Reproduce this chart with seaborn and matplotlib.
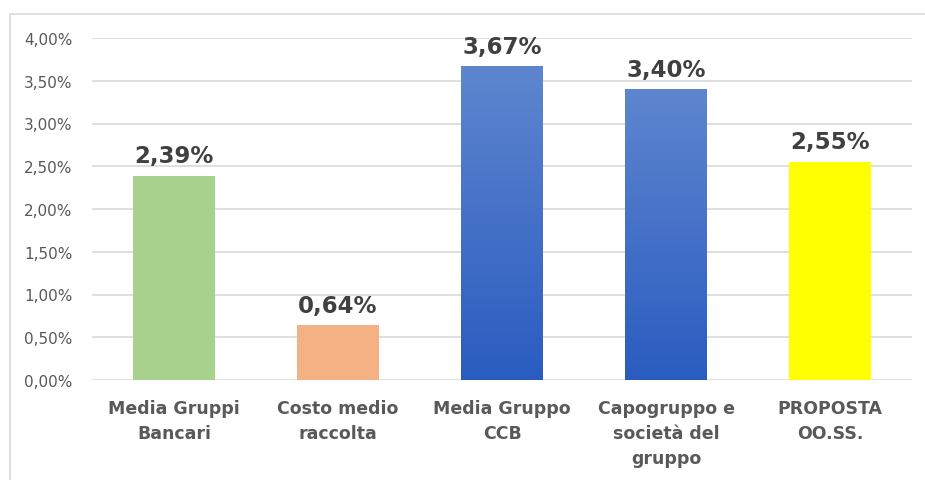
import numpy as np
import pandas as pd
import matplotlib
matplotlib.use("Agg")
import matplotlib.pyplot as plt
import matplotlib.colors as mcolors
from matplotlib.patches import Rectangle
from matplotlib.ticker import MultipleLocator, FuncFormatter
import seaborn as sns

# Data
categories = [
    "Media Gruppi\nBancari",
    "Costo medio\nraccolta",
    "Media Gruppo\nCCB",
    "Capogruppo e\nsocietà del\ngruppo",
    "PROPOSTA\nOO.SS.",
]
values = [2.39, 0.64, 3.67, 3.40, 2.55]
bar_colors = ["#A9D18E", "#F4B183", "#4472C4", "#4472C4", "#FFFF00"]
gradient_bars = [2, 3]

df = pd.DataFrame({"categoria": categories, "valore": values})

sns.set_style("white")
plt.rcParams["font.family"] = ["DejaVu Sans"]

fig = plt.figure(figsize=(9.25, 4.81), dpi=100)
ax = fig.add_axes([92 / 925, 1 - 381 / 481, 820 / 925, 342 / 481])

sns.barplot(
    data=df, x="categoria", y="valore", hue="categoria",
    palette=bar_colors, width=0.5, ax=ax, legend=False, saturation=1,
)

# Blue gradient fill on the CCB bars
cmap = mcolors.LinearSegmentedColormap.from_list("blu", ["#2A5CC0", "#5E86CF"])
grad = np.linspace(0, 1, 256).reshape(-1, 1)
for i, patch in enumerate(ax.patches):
    patch.set_edgecolor("none")
    if i in gradient_bars:
        x0, y0 = patch.get_x(), patch.get_y()
        w, h = patch.get_width(), patch.get_height()
        im = ax.imshow(grad, cmap=cmap, origin="lower", aspect="auto",
                       extent=[x0, x0 + w, y0, y0 + h], zorder=patch.get_zorder())
        im.set_clip_path(patch)

ax.set_xlim(-0.5, len(categories) - 0.5)
ax.set_ylim(0, 4.0)
ax.yaxis.set_major_locator(MultipleLocator(0.5))
ax.yaxis.set_major_formatter(
    FuncFormatter(lambda v, p: f"{v:.2f}%".replace(".", ","))
)
ax.grid(axis="y", color="#D9D9D9", linewidth=1.2)
ax.set_axisbelow(True)
for s in ax.spines.values():
    s.set_visible(False)

ax.set_xlabel("")
ax.set_ylabel("")
ax.tick_params(axis="y", length=0, pad=14, labelsize=11, labelcolor="#595959")
ax.tick_params(axis="x", length=0, pad=14)
ax.set_xticks(range(len(categories)))
ax.set_xticklabels(categories, fontsize=12.5, fontweight="bold", color="#595959",
                   linespacing=1.5, va="top")

# Data labels
for i, v in enumerate(values):
    ax.text(i, v + 0.1, f"{v:.2f}%".replace(".", ","), ha="center", va="bottom",
            fontsize=16.5, fontweight="bold", color="#404040")

# Chart area frame
fig.add_artist(Rectangle((10 / 925, -0.1), 1.2, 1.1 - 15 / 481,
                         transform=fig.transFigure, fill=False,
                         edgecolor="#D9D9D9", linewidth=1.2))

fig.savefig("out.png", dpi=100)
